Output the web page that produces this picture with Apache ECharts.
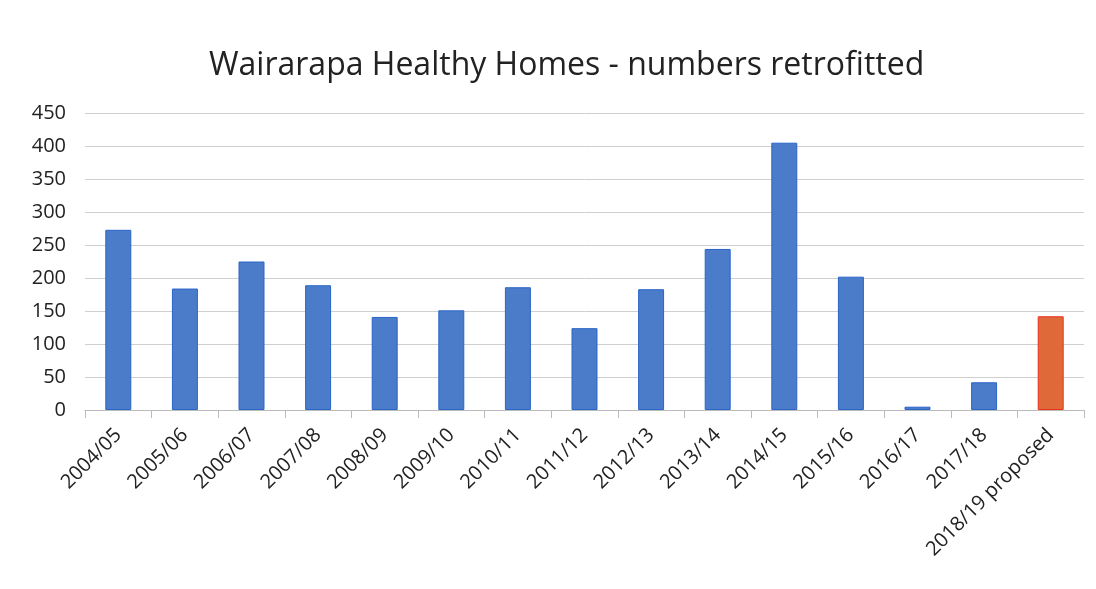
<!DOCTYPE html>
<html>
<head>
<meta charset="utf-8">
<script src="https://cdn.jsdelivr.net/npm/echarts@6/dist/echarts.min.js"></script>
<style>
  html, body { margin: 0; padding: 0; background: #fff; }
  #chart { width: 1096px; height: 589px; }
</style>
</head>
<body>
<div id="chart"></div>
<script>
// categories (financial years)
const years = ['2004/05', '2005/06', '2006/07', '2007/08', '2008/09', '2009/10', '2010/11',
  '2011/12', '2012/13', '2013/14', '2014/15', '2015/16', '2016/17', '2017/18', '2018/19 proposed'];
// homes retrofitted
const retrofitted = [273, 184, 225, 189, 141, 151, 186, 124, 183, 244, 405, 202, 5, 42, 142];
// last bar is the proposed figure, drawn in orange
const proposedIndex = 14;

const chart = echarts.init(document.getElementById('chart'));

const option = {
  title: {
    text: 'Wairarapa Healthy Homes - numbers retrofitted',
    left: 204,
    top: 45,
    textStyle: { fontSize: 32, fontWeight: 'normal', color: '#222', fontFamily: 'Open Sans' }
  },
  grid: { left: 85, right: 12, top: 113, bottom: 179 },
  xAxis: {
    type: 'category',
    data: years,
    axisLine: { lineStyle: { color: '#bbb' } },
    axisTick: { show: true, length: 8, lineStyle: { color: '#bbb' } },
    axisLabel: {
      rotate: 45,
      interval: 0,
      fontSize: 20,
      color: '#222',
      fontFamily: 'Open Sans',
      margin: 22
    }
  },
  yAxis: {
    type: 'value',
    min: 0,
    max: 450,
    interval: 50,
    axisLine: { show: false },
    axisTick: { show: false },
    axisLabel: { fontSize: 20, color: '#222', fontFamily: 'Open Sans', margin: 19 },
    splitLine: { lineStyle: { color: '#cfcfcf' } }
  },
  series: [
    {
      type: 'bar',
      barWidth: '39%',
      data: retrofitted.map((v, i) => ({
        value: v,
        itemStyle: i === proposedIndex
          ? { color: '#e0693a', borderColor: '#e8321e', borderWidth: 1 }
          : { color: '#4a7cc9', borderColor: '#2a64c8', borderWidth: 1 }
      }))
    }
  ]
};

chart.setOption(option);
</script>
</body>
</html>
